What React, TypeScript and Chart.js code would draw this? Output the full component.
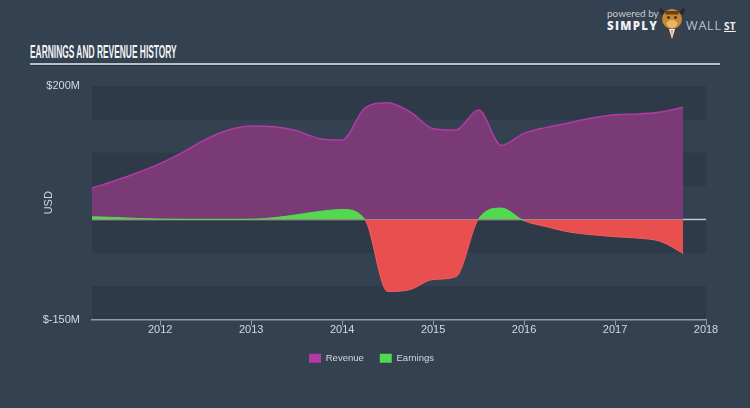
import React, { useEffect, useRef } from 'react';
import { Chart, registerables } from 'chart.js';

Chart.register(...registerables);

// ---- data ----
const quarters = [
  2011.25, 2011.5, 2011.75, 2012.0, 2012.25, 2012.5, 2012.75, 2013.0, 2013.25,
  2013.5, 2013.75, 2014.0, 2014.25, 2014.5, 2014.75, 2015.0, 2015.25, 2015.5,
  2015.75, 2016.0, 2016.25, 2016.5, 2016.75, 2017.0, 2017.25, 2017.5, 2017.75,
];
const revenue = [
  47, 58, 70, 84, 101, 120, 134, 140, 139,
  133, 121, 119, 167, 175, 161, 136, 134, 164,
  111, 129, 138, 145, 152, 157, 158, 161, 168,
];
const earnings = [
  4, 3, 1.5, 0.6, 0.3, 0.2, 0.2, 0.4, 2.5,
  7, 12, 15, 0, -108, -105, -90, -86, 1,
  17, -2, -11, -19, -23, -26, -28, -33, -51,
];
const yearTicks = [2012, 2013, 2014, 2015, 2016, 2017, 2018];
const valueTicks = [-150, -100, -50, 0, 50, 100, 150, 200];
const shownValueLabels: Record<string, string> = { '200': '$200M', '-150': '$-150M' };

const BG = '#344150';
const BAND_DARK = '#2e3a48';
const AXIS = '#8e9bab';
const TEXT = '#d3d8de';
const REV_FILL = '#7a3a76';
const REV_LINE = '#b23aa4';
const GREEN = '#50da50';
const RED = '#ea4f4f';
const FONT = '"Liberation Sans", Arial, sans-serif';

const PAD_LEFT = 37;
const PLOT_LEFT = 92;

const bandsPlugin = {
  id: 'bands',
  beforeDraw(chart: any) {
    const { ctx, chartArea, scales } = chart;
    const y = scales.y;
    ctx.save();
    for (let i = 0; i < valueTicks.length - 1; i++) {
      if (i % 2 !== 0) continue;
      const bottom = y.getPixelForValue(valueTicks[i]);
      const top = y.getPixelForValue(valueTicks[i + 1]);
      ctx.fillStyle = BAND_DARK;
      ctx.fillRect(chartArea.left, top, chartArea.right - chartArea.left, bottom - top);
    }
    ctx.restore();
  },
  beforeDatasetsDraw(chart: any) {
    const { ctx, chartArea, scales } = chart;
    const y0 = scales.y.getPixelForValue(0);
    ctx.save();
    ctx.strokeStyle = '#27313d';
    ctx.lineWidth = 1;
    ctx.beginPath();
    ctx.moveTo(chartArea.left, y0 + 1.5);
    ctx.lineTo(chartArea.right, y0 + 1.5);
    ctx.stroke();
    ctx.strokeStyle = '#c3cad2';
    ctx.lineWidth = 1.5;
    ctx.beginPath();
    ctx.moveTo(chartArea.left, y0);
    ctx.lineTo(chartArea.right, y0);
    ctx.stroke();
    ctx.restore();
  },
};

function ChartCanvas() {
  const ref = useRef<HTMLCanvasElement | null>(null);
  useEffect(() => {
    if (!ref.current) return;
    const revPoints = quarters.map((q, i) => ({ x: q, y: revenue[i] }));
    const earnPoints = quarters.map((q, i) => ({ x: q, y: earnings[i] }));
    const chart = new Chart(ref.current, {
      type: 'line',
      data: {
        datasets: [
          {
            label: 'Revenue',
            data: revPoints,
            borderColor: REV_LINE,
            backgroundColor: REV_FILL,
            borderWidth: 1.5,
            fill: 'origin',
            pointRadius: 0,
            cubicInterpolationMode: 'monotone',
            order: 2,
          },
          {
            label: 'Earnings',
            data: earnPoints,
            borderColor: GREEN,
            backgroundColor: GREEN,
            borderWidth: 1,
            fill: { target: 'origin', above: GREEN, below: RED },
            pointRadius: 0,
            cubicInterpolationMode: 'monotone',
            order: 1,
            segment: {
              borderColor: (c: any) =>
                (c.p0.parsed.y + c.p1.parsed.y) / 2 >= 0 ? GREEN : '#f0605a',
            },
          },
        ] as any,
      },
      options: {
        animation: false,
        responsive: false,
        layout: { padding: { left: PAD_LEFT, right: 44, top: 86, bottom: 35 } },
        plugins: {
          tooltip: { enabled: false },
          legend: {
            position: 'bottom',
            labels: {
              boxWidth: 12,
              boxHeight: 9,
              padding: 16,
              color: TEXT,
              font: { family: FONT, size: 9.5 },
              sort: (a: any, b: any) => a.datasetIndex - b.datasetIndex,
              generateLabels: (chart: any) =>
                chart.data.datasets.map((ds: any, i: number) => ({
                  text: ds.label,
                  fillStyle: i === 0 ? REV_LINE : GREEN,
                  strokeStyle: i === 0 ? REV_LINE : GREEN,
                  lineWidth: 0,
                  fontColor: TEXT,
                  hidden: false,
                  datasetIndex: i,
                })),
            },
          },
        },
        scales: {
          x: {
            type: 'linear',
            min: 2011.25,
            max: 2018,
            afterBuildTicks: (s: any) => {
              s.ticks = yearTicks.map((v) => ({ value: v }));
            },
            afterFit: (s: any) => {
              s.height = 18;
            },
            ticks: {
              autoSkip: false,
              maxRotation: 0,
              padding: -2,
              color: TEXT,
              font: { family: FONT, size: 11 },
              callback: (v: any) => String(v),
            },
            grid: {
              drawOnChartArea: false,
              drawTicks: true,
              tickLength: 6,
              color: AXIS,
              lineWidth: 1,
            },
            border: { display: true, color: AXIS, width: 1.5 },
          },
          y: {
            type: 'linear',
            min: -150,
            max: 200,
            afterBuildTicks: (s: any) => {
              s.ticks = valueTicks.map((v) => ({ value: v }));
            },
            afterFit: (s: any) => {
              s.width = PLOT_LEFT - PAD_LEFT;
            },
            ticks: {
              padding: 12,
              color: TEXT,
              font: { family: FONT, size: 11 },
              callback: (v: any) => shownValueLabels[String(v)] || '',
            },
            grid: { display: false, drawTicks: false },
            border: { display: false },
            title: {
              display: true,
              text: 'USD',
              color: TEXT,
              font: { family: FONT, size: 11 },
              padding: { top: 5, bottom: 0 },
            },
          },
        },
      } as any,
      plugins: [bandsPlugin],
    });
    return () => chart.destroy();
  }, []);
  return (
    <canvas
      ref={ref}
      width={750}
      height={408}
      style={{ position: 'absolute', left: 0, top: 0, width: 750, height: 408 }}
    />
  );
}

function Logo() {
  return (
    <div style={{ position: 'absolute', left: 0, top: 0 }}>
      <div
        style={{
          position: 'absolute',
          left: 607,
          top: 7,
          fontFamily: 'Lato, sans-serif',
          fontSize: 10,
          lineHeight: '12px',
          color: '#c8cdd3',
          whiteSpace: 'nowrap',
        }}
      >
        powered by
      </div>
      <div
        style={{
          position: 'absolute',
          left: 607,
          top: 19,
          fontFamily: '"Open Sans", sans-serif',
          fontWeight: 800,
          fontSize: 11.5,
          lineHeight: '14px',
          letterSpacing: 1.3,
          color: '#eef0f2',
          whiteSpace: 'nowrap',
        }}
      >
        SIMPLY
      </div>
      <svg
        width={30}
        height={33}
        viewBox="0 0 30 33"
        style={{ position: 'absolute', left: 657, top: 6 }}
      >
        <path d="M1 18 C4 34 26 34 29 18 L29 33 L1 33 Z" fill="#3a3f45" />
        <path d="M11 22 C6 26 4 30 3 33 L27 33 C26 30 24 26 19 22 Z" fill="#3c4148" />
        <path d="M12 23 L15 33 L18 23 Z" fill="#f2f2f2" />
        <path d="M14.2 24 L15 31 L15.8 24 Z" fill="#e0611e" />
        <path d="M3 1 C1 6 4 10 8 10 L8 6 Z" fill="#2a2a2a" />
        <path d="M27 1 C29 6 26 10 22 10 L22 6 Z" fill="#2a2a2a" />
        <ellipse cx={15} cy={13} rx={10} ry={10} fill="#c9862e" />
        <ellipse cx={15} cy={18} rx={5.5} ry={4} fill="#e6b56a" />
        <circle cx={11.5} cy={11.5} r={1.3} fill="#222" />
        <circle cx={18.5} cy={11.5} r={1.3} fill="#222" />
        <rect x={8} y={5} width={14} height={3.5} rx={1.7} fill="#6b3f1a" />
      </svg>
      <div
        style={{
          position: 'absolute',
          left: 686,
          top: 18,
          fontFamily: '"Open Sans", sans-serif',
          fontWeight: 300,
          fontSize: 13,
          lineHeight: '15px',
          letterSpacing: 0.8,
          color: '#eef0f2',
          whiteSpace: 'nowrap',
        }}
      >
        WALL
        <span
          style={{
            fontWeight: 700,
            fontSize: 10,
            marginLeft: 2,
            textDecoration: 'underline',
            letterSpacing: 0.3,
          }}
        >
          ST
        </span>
      </div>
    </div>
  );
}

export default function App() {
  return (
    <div
      style={{
        position: 'fixed',
        left: 0,
        top: 0,
        width: 750,
        height: 408,
        background: BG,
        overflow: 'hidden',
      }}
    >
      <Logo />
      <div
        style={{
          position: 'absolute',
          left: 30,
          top: 44.4,
          fontFamily: '"Liberation Sans", Arial, sans-serif',
          fontWeight: 700,
          fontSize: 17.5,
          lineHeight: '17.5px',
          color: '#f2f4f6',
          whiteSpace: 'nowrap',
          transform: 'scaleX(0.48)',
          transformOrigin: 'left top',
        }}
      >
        EARNINGS AND REVENUE HISTORY
      </div>
      <div
        style={{
          position: 'absolute',
          left: 30,
          top: 63,
          width: 690,
          height: 0,
          borderTop: '2px solid #b6c0ca',
          borderBottom: '1px solid #27313d',
        }}
      />
      <ChartCanvas />
    </div>
  );
}
